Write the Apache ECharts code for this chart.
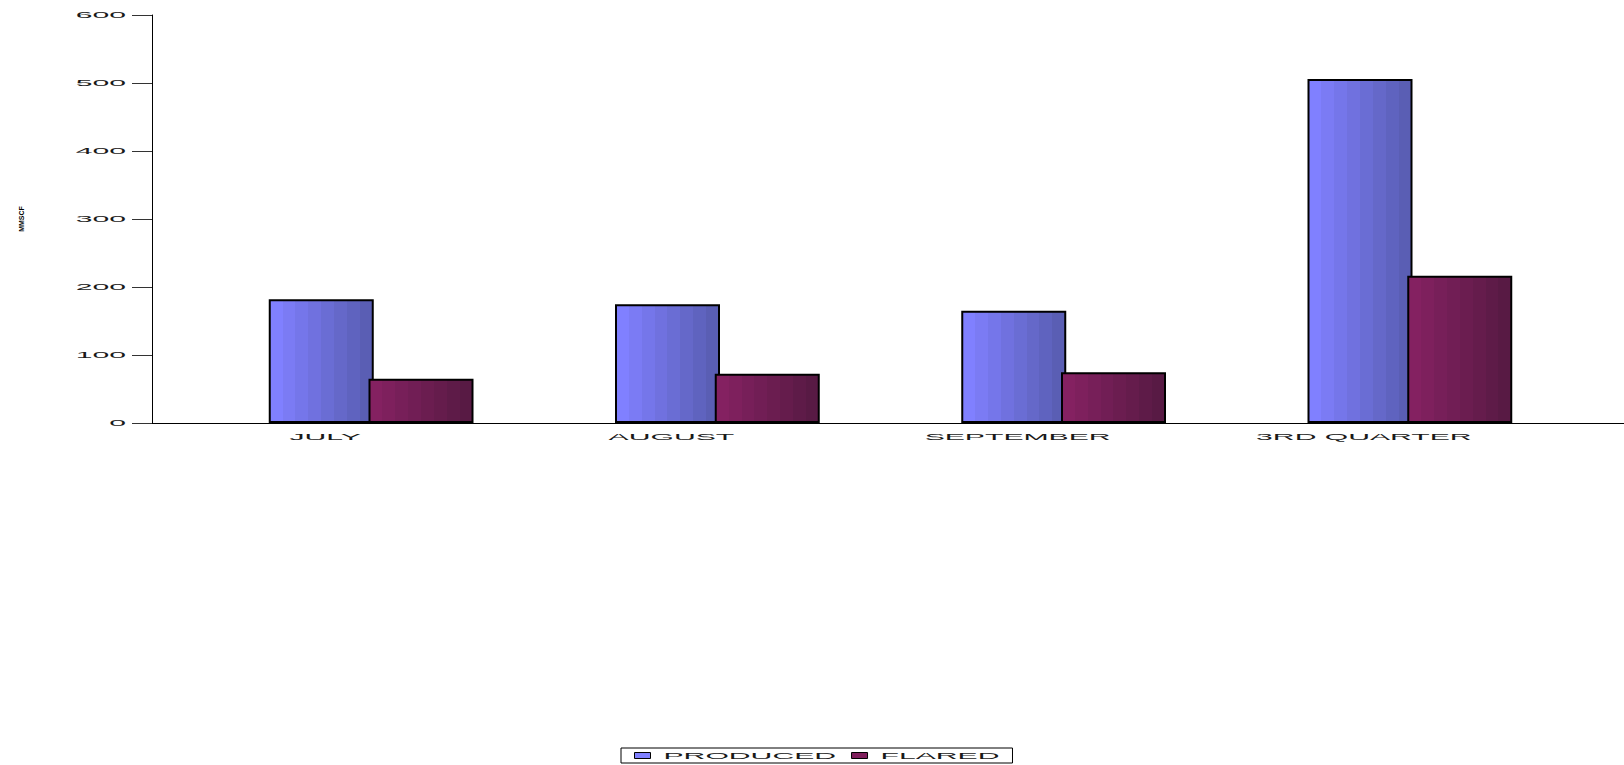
<!DOCTYPE html>
<html><head><meta charset="utf-8">
<script src="https://cdn.jsdelivr.net/npm/echarts@6/dist/echarts.min.js"></script>
<style>html,body{margin:0;padding:0;background:#fff}#c{width:1624px;height:765px}</style>
</head><body><div id="c"></div>
<script>
// ---- data ----
const categories = ['JULY', 'AUGUST', 'SEPTEMBER', '3RD QUARTER'];
const seriesNames = ['PRODUCED', 'FLARED'];
const produced = [182, 174.5, 165, 506];
const flared = [65, 72.5, 74.5, 216.5];
const yMin = 0, yMax = 600, yInterval = 100;
const yAxisName = 'MMSCF';

// ---- style ----
const FONT = 'Liberation Sans';
const FS = 9;
const STRETCH = 3.35;

function measure(t) {
  const c = document.createElement('canvas').getContext('2d');
  c.font = FS + 'px "' + FONT + '"';
  return c.measureText(t).width;
}
function hex(c) { return [1, 3, 5].map(i => parseInt(c.substr(i, 2), 16)); }
function bands(c1, c2, n) {
  const a = hex(c1), b = hex(c2), stops = [];
  for (let i = 0; i < n; i++) {
    const t = i / (n - 1);
    const col = 'rgb(' + a.map((v, k) => Math.round(v + (b[k] - v) * t)).join(',') + ')';
    stops.push({ offset: i / n, color: col }, { offset: (i + 1) / n, color: col });
  }
  return { type: 'linear', x: 0, y: 0, x2: 1, y2: 0, colorStops: stops };
}

const wP = measure(seriesNames[0]), wF = measure(seriesNames[1]);

const chart = echarts.init(document.getElementById('c'), null, { renderer: 'svg' });
const txt = { fontFamily: FONT, fontSize: FS, color: '#1a1a1a' };

chart.setOption({
  animation: false,
  backgroundColor: '#ffffff',
  grid: [
    { left: 152, top: 15, width: 1385, height: 408 },
    { left: 198, top: 15, width: 1385, height: 408 }
  ],
  xAxis: [
    {
      type: 'category', gridIndex: 0, data: categories,
      axisLine: { lineStyle: { color: '#000', width: 1 } },
      axisTick: { length: 6, lineStyle: { color: '#666' } },
      axisLabel: Object.assign({ margin: 9, interval: 0 }, txt),
      splitLine: { show: false }
    },
    { type: 'category', gridIndex: 1, data: categories, show: false }
  ],
  yAxis: [
    {
      type: 'value', gridIndex: 0, min: yMin, max: yMax, interval: yInterval,
      name: yAxisName, nameLocation: 'middle', nameGap: 127, nameRotate: 90,
      nameTextStyle: { fontFamily: FONT, fontSize: 7, fontWeight: 900, color: '#000' },
      axisLine: { show: true, lineStyle: { color: '#000', width: 1 } },
      axisTick: { show: true, length: 20, lineStyle: { color: '#333' } },
      axisLabel: Object.assign({ margin: 26 }, txt),
      splitLine: { show: false }
    },
    { type: 'value', gridIndex: 1, min: yMin, max: yMax, interval: yInterval, show: false, splitLine: { show: false } }
  ],
  legend: {
    left: 621, top: 748,
    icon: 'rect', itemWidth: 16, itemHeight: 6,
    itemGap: 15 + wP * (STRETCH - 1),
    padding: [3, 13 + wF * (STRETCH - 1), 3, 13],
    borderColor: '#000', borderWidth: 1, borderRadius: 0,
    textStyle: Object.assign({ padding: [0, 0, 0, 8] }, txt),
    data: [
      { name: seriesNames[0], itemStyle: { color: '#8080FF', borderColor: '#000', borderWidth: 1 } },
      { name: seriesNames[1], itemStyle: { color: '#7F1F5C', borderColor: '#000', borderWidth: 1 } }
    ]
  },
  graphic: [
    { type: 'line', shape: { x1: 1537, y1: 423.5, x2: 1624, y2: 423.5 }, style: { stroke: '#000', lineWidth: 1 }, silent: true }
  ],
  series: [
    {
      name: seriesNames[0], type: 'bar', xAxisIndex: 1, yAxisIndex: 1, data: produced,
      barWidth: 105, barGap: '-5%',
      itemStyle: { color: bands('#8080FF', '#5A5EB4', 8), borderColor: '#000', borderWidth: 2 }
    },
    {
      name: seriesNames[1], type: 'bar', xAxisIndex: 1, yAxisIndex: 1, data: flared,
      barWidth: 105, barGap: '-5%',
      itemStyle: { color: bands('#842161', '#581A44', 8), borderColor: '#000', borderWidth: 2 }
    }
  ]
});

function stretchTexts() {
  const svg = document.querySelector('#c svg');
  if (!svg) return;
  svg.querySelectorAll('text').forEach(t => {
    if (t.textContent === yAxisName) return;
    if (!t.dataset.w0) t.dataset.w0 = t.getComputedTextLength();
    t.setAttribute('textLength', (+t.dataset.w0 * STRETCH).toFixed(1));
    t.setAttribute('lengthAdjust', 'spacingAndGlyphs');
  });
}
chart.getZr().flush();
stretchTexts();
chart.on('finished', stretchTexts);
</script>
</body></html>
